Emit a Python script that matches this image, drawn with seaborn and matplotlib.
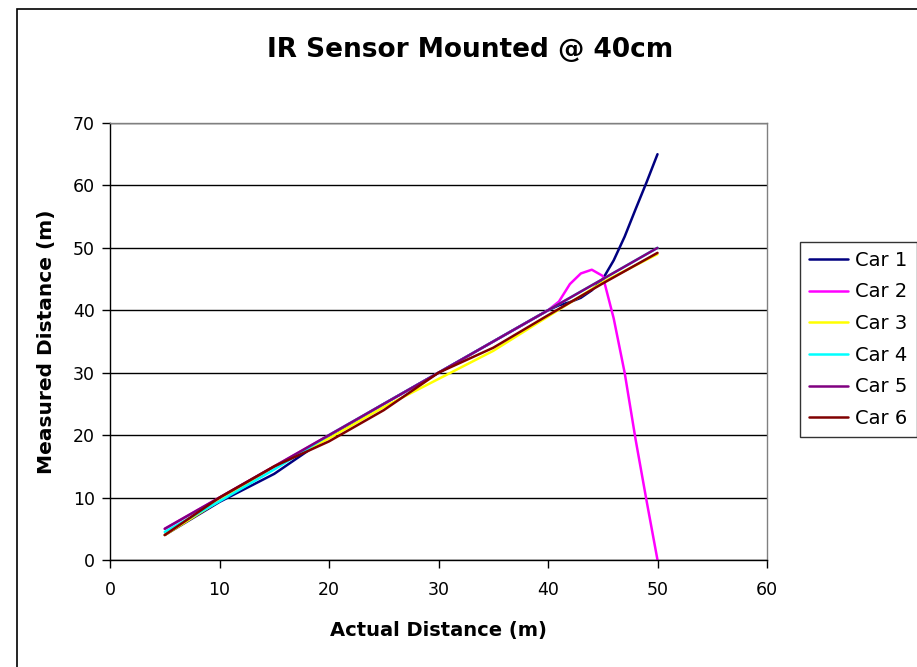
import matplotlib
matplotlib.use("Agg")
import matplotlib.pyplot as plt
import seaborn as sns
import pandas as pd
from matplotlib.patches import Rectangle

# ---- data ----
x_std = [5, 10, 15, 20, 25, 30, 35, 40, 45, 50]
x_fine = [5, 10, 15, 20, 25, 30, 35, 40, 41, 42, 43, 44, 45, 46, 47, 48, 49, 50]

car1 = [4, 9.3, 13.8, 19.8, 25, 30, 35, 40, 40.8, 41.3, 42, 43.2, 45, 48, 51.8, 56.2, 60.5, 65]
car2 = [5, 10, 15, 20, 25, 30, 35, 40, 41.4, 44.2, 45.9, 46.5, 45.5, 38.7, 30, 19.3, 9.5, 0]
car3 = [4, 9.5, 15, 19.5, 24.5, 29, 33.5, 39, 44.5, 49]
car4 = [4.5, 9.4, 14.5, 20, 25, 30, 35, 40, 45, 50]
car5 = [5, 10, 15, 20, 25, 30, 35, 40, 45, 50]
car6 = [4, 10, 15, 19, 24, 30, 34, 39.2, 44.3, 49.2]

names = ["Car 1", "Car 2", "Car 3", "Car 4", "Car 5", "Car 6"]
colors = ["#000080", "#FF00FF", "#FFFF00", "#00FFFF", "#800080", "#800000"]

series = [(x_fine, car1), (x_fine, car2), (x_std, car3),
          (x_std, car4), (x_std, car5), (x_std, car6)]
rows = []
for name, (xs, ys) in zip(names, series):
    for xv, yv in zip(xs, ys):
        rows.append({"Actual": xv, "Measured": yv, "Car": name})
df = pd.DataFrame(rows)

sns.set_style("white")
plt.rcParams['font.family'] = ['DejaVu Sans']
plt.rcParams['text.color'] = 'black'
plt.rcParams['axes.labelcolor'] = 'black'

W, H = 917, 667
fig = plt.figure(figsize=(W / 100, H / 100), dpi=100)
ax = fig.add_axes([110 / W, 1 - 560 / H, (767 - 110) / W, (560 - 123) / H])

sns.lineplot(data=df, x="Actual", y="Measured", hue="Car", hue_order=names,
             palette=dict(zip(names, colors)), linewidth=1.8, ax=ax,
             legend=False, sort=True, estimator=None)

ax.set_xlim(0, 60)
ax.set_ylim(0, 70)
ax.set_xticks(range(0, 61, 10))
ax.set_yticks(range(0, 71, 10))
ax.tick_params(axis="both", labelsize=12.5, length=6, width=1, direction="out",
               colors="black")
ax.tick_params(axis="x", bottom=True, pad=9)
ax.tick_params(axis="y", left=True, pad=5)
ax.yaxis.grid(True, color="black", linewidth=1)
ax.xaxis.grid(False)
ax.set_axisbelow(True)
for side in ["top", "right"]:
    ax.spines[side].set_color("#808080")
    ax.spines[side].set_linewidth(1)
for side in ["left", "bottom"]:
    ax.spines[side].set_color("black")
    ax.spines[side].set_linewidth(1)

ax.set_xlabel("Actual Distance (m)", fontsize=14, fontweight="bold",
              labelpad=16, color="black")
ax.set_ylabel("Measured Distance (m)", fontsize=14.5, fontweight="bold",
              labelpad=12, color="black")

fig.text(470 / W, 1 - 50 / H, "IR Sensor Mounted @ 40cm", fontsize=19,
         fontweight="bold", ha="center", va="center", color="black")

handles = [plt.Line2D([], [], color=c, linewidth=1.8) for c in colors]
leg = fig.legend(handles, names, loc="upper left",
                 bbox_to_anchor=(800 / W, 1 - 242 / H), fontsize=14,
                 frameon=True, fancybox=False, edgecolor="black",
                 handlelength=2.0, handletextpad=0.4, labelspacing=0.65,
                 borderpad=0.45, borderaxespad=0)
leg.get_frame().set_linewidth(1)
for t in leg.get_texts():
    t.set_color("black")

fig.patches.append(Rectangle((17 / W, -0.1), 2, 1.1 - 8.5 / H,
                             transform=fig.transFigure, fill=False,
                             edgecolor="black", linewidth=1.2))

fig.savefig("out.png", dpi=100)
